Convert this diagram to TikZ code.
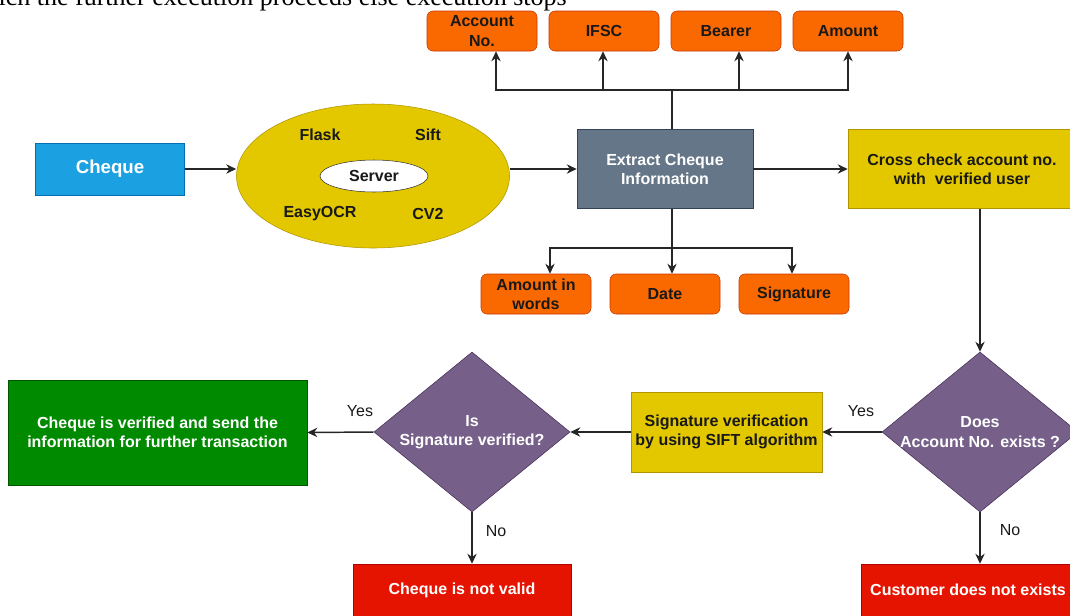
\documentclass[tikz,border=0pt]{standalone}
\usepackage{fontspec}
\setmainfont{Liberation Sans}
\newfontfamily\papertext{Liberation Serif}
\usetikzlibrary{shapes, arrows.meta}
\definecolor{c1}{HTML}{1BA1E2}
\definecolor{c1d}{HTML}{006EAF}
\definecolor{c2}{HTML}{E3C800}
\definecolor{c2d}{HTML}{B09500}
\definecolor{c3}{HTML}{647687}
\definecolor{c3d}{HTML}{314354}
\definecolor{c4}{HTML}{FA6800}
\definecolor{c4d}{HTML}{C73500}
\definecolor{c5}{HTML}{76608A}
\definecolor{c5d}{HTML}{432D57}
\definecolor{c6}{HTML}{008A00}
\definecolor{c6d}{HTML}{005700}
\definecolor{c7}{HTML}{E51400}
\definecolor{c7d}{HTML}{B20000}

\begin{document}
\begin{tikzpicture}[x=0.75pt, y=-0.75pt]
    \tikzstyle{t1} = [font=\bfseries\fontsize{12}{14.5}\selectfont, align=center, inner sep=0pt, text=black!90]
    \tikzstyle{t2} = [font=\fontsize{12}{14.5}\selectfont, inner sep=0pt, text=black!90]
    \tikzstyle{f1} = [draw=c1d, fill=c1, text=white]
    \tikzstyle{f2} = [draw=c2d, fill=c2]
    \tikzstyle{f3} = [draw=c3d, fill=c3, text=white]
    \tikzstyle{f4} = [draw=c4d, fill=c4, rounded corners=4.5pt]
    \tikzstyle{f5} = [draw=c5d, fill=c5, text=white]
    \tikzstyle{f6} = [draw=c6d, fill=c6, text=white]
    \tikzstyle{f7} = [draw=c7d, fill=c7, text=white]
    \tikzstyle{o1} = [rectangle, minimum width=82.5pt, minimum height=30pt]
    \tikzstyle{dm} = [diamond, aspect=1.225, inner sep=-1pt, minimum width=147pt, minimum height=120pt]
    \tikzstyle{ln} = [draw=black!85, line width=1.1pt]
    \tikzstyle{ar} = [ln, -{Stealth[length=7.5pt, width=7pt]}]
    \useasboundingbox (0, 0) rectangle (1070, 615);
    \clip (0, 0) rectangle (1070, 615);
    \node (cap) at (567, 5.5) [anchor=base east, inner sep=0pt, font=\papertext\fontsize{19.5}{22}\selectfont] {which the further execution proceeds else execution stops};
    \node (chq) at (110, 169) [t1, f1, minimum width=111.75pt, minimum height=39pt, font=\bfseries\fontsize{14}{16}\selectfont] {Cheque};
    \node (host) at (373, 176) [ellipse, f2, minimum width=204.75pt, minimum height=108pt] {};
    \node (srv) at (374, 176) [ellipse, t1, draw=black!80, fill=white, minimum width=81pt, minimum height=24pt] {Server};
    \node (flask) at (320, 135) [t1] {Flask};
    \node (sift) at (428, 135) [t1] {Sift};
    \node (ocr) at (320, 214) [t1] {EasyOCR};
    \node (cv) at (428, 214) [t1] {CV2};
    \node (xtr) at (665, 169) [t1, f3, minimum width=132pt, minimum height=59.25pt] {Extract Cheque\\Information};
    \node (crs) at (962, 169) [t1, f2, minimum width=171pt, minimum height=59.25pt] {Cross check account no.\\with\ \ verified user};
    \foreach \n/\nx/\txt in {acc/482/{Account\\No.}, ifsc/604/IFSC, brr/726/Bearer, amt/848/Amount}
    {
      \node (\n) at (\nx, 31) [t1, o1, f4] {\txt};
    }
    \foreach \n/\nx/\txt in {words/536/{Amount in\\words}, date/665/Date, sign/794/Signature}
    {
      \node (\n) at (\nx, 294) [t1, o1, f4] {\txt};
    }
    \node (acx) at (980, 432) [t1, dm, f5] {Does\\Account No. exists ?};
    \node (sgv) at (726.5, 432) [t1, f2, minimum width=143.25pt, minimum height=60pt] {Signature verification\\by using SIFT algorithm};
    \node (isv) at (472, 432) [t1, dm, f5] {Is\\Signature verified?};
    \node (grn) at (157.5, 432.5) [t1, f6, minimum width=224.25pt, minimum height=78.75pt] {Cheque is verified and send the\\information for further transaction};
    \node (inval) at (462, 590) [t1, f7, minimum width=163.5pt, minimum height=39pt] {Cheque is not valid};
    \node (nocust) at (968, 590) [t1, f7, minimum width=160.5pt, minimum height=39pt] {Customer does not exists};
    \node (yes1) at (861, 411) [t2] {Yes};
    \node (no1) at (1010, 530) [t2] {No};
    \node (yes2) at (360, 411) [t2] {Yes};
    \node (no2) at (496, 531) [t2] {No};
    \coordinate (upj) at (672, 90);
    \coordinate (dnj) at (672, 248);
    \draw [ar] (chq.east) -- (chq.east -| host.west);
    \draw [ar] (host.east |- xtr.west) -- (xtr.west);
    \draw [ar] (xtr.east) -- (crs.west);
    \draw [ln] (xtr.north -| upj) -- (upj);
    \foreach \n/\dx in {acc/14, ifsc/-1, brr/13, amt/0}
      \draw [ar] (upj) -| ([xshift=\dx*0.75pt]\n.south);
    \draw [ln] (xtr.south -| dnj) -- (dnj);
    \foreach \n/\dx in {words/14, date/7, sign/-2}
      \draw [ar] (dnj) -| ([xshift=\dx*0.75pt]\n.north);
    \draw [ar] (crs.south -| acx.north) -- (acx.north);
    \draw [ar] (acx.west) -- (sgv.east);
    \draw [ar] (acx.south) -- (acx.south |- nocust.north);
    \draw [ar] (sgv.west) -- (isv.east);
    \draw [ar] (isv.west) -- (grn.east);
    \draw [ar] (isv.south) -- (isv.south |- inval.north);
\end{tikzpicture}
\end{document}
